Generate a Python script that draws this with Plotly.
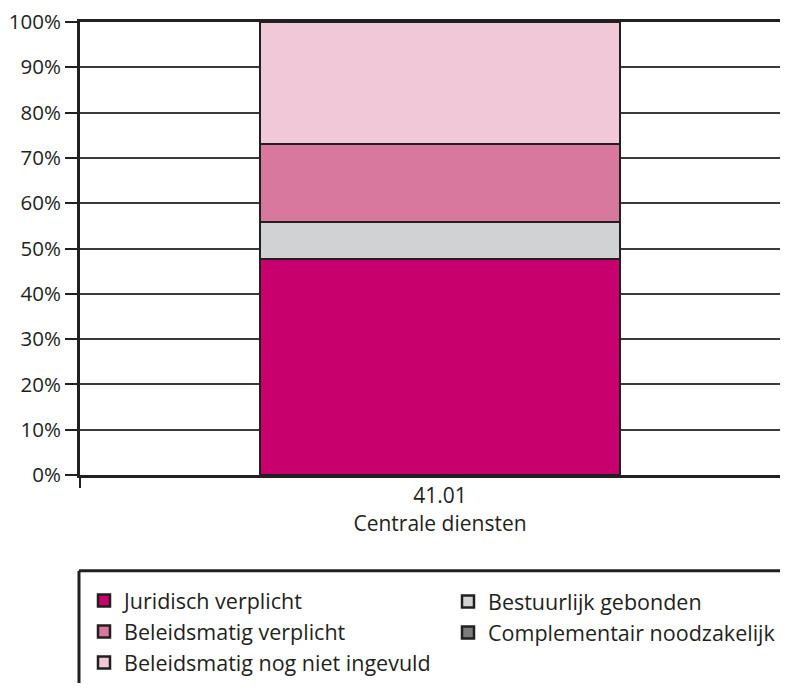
import plotly.graph_objects as go

categories = ["41.01<br>Centrale diensten"]
series_names = ["Juridisch verplicht", "Bestuurlijk gebonden", "Beleidsmatig verplicht",
                "Complementair noodzakelijk", "Beleidsmatig nog niet ingevuld"]
series_values = [[47.7], [8.1], [17.3], [0.0], [26.9]]
series_colors = ["#c8006e", "#d1d2d4", "#d8789e", "#7b7c7e", "#f0c8d7"]
series_legend = ["legend", "legend2", "legend", "legend2", "legend"]
y_ticks = [0, 10, 20, 30, 40, 50, 60, 70, 80, 90, 100]
y_ticklabels = [f"{v}%" for v in y_ticks]

dark = "#231f20"
font = "Open Sans, DejaVu Sans, sans-serif"

W, H = 788, 675
L, T = 72, 14
plot_h = 454
B = H - T - plot_h
R = 0
plot_w = W - L - R

def py(page_y):
    # page pixel (with 8px body offset) -> paper y
    fy = page_y - 8
    return (H - B - fy) / plot_h

def px(page_x):
    fx = page_x - 8
    return (fx - L) / plot_w

# bar centre at page x 440, category axis left edge at -0.5
x_hi = -0.5 + plot_w / (440 - 80) * 0.5

fig = go.Figure()
for name, vals, col, lg in zip(series_names, series_values, series_colors, series_legend):
    fig.add_trace(go.Bar(
        x=categories, y=vals, name=name, width=0.5, legend=lg,
        marker=dict(color=col, line=dict(color=dark, width=2.5)),
    ))

legend_common = dict(xanchor="left", yanchor="top", traceorder="normal",
                     font=dict(size=21.5, family=font, color="#231f20"),
                     bgcolor="rgba(0,0,0,0)", orientation="v")

fig.update_layout(
    width=W, height=H,
    margin=dict(l=L, r=R, t=T, b=B),
    barmode="stack",
    plot_bgcolor="white", paper_bgcolor="white",
    font=dict(family=font, size=20, color="#231f20"),
    showlegend=True,
    legend=dict(x=px(84), y=py(581), **legend_common),
    legend2=dict(x=px(448), y=py(581), **legend_common),
    xaxis=dict(
        range=[-0.5, x_hi], showline=True, linecolor=dark, linewidth=3, mirror=True,
        ticks="outside", tickson="boundaries", ticklen=10, tickcolor=dark, tickwidth=1.5,
        showgrid=False, zeroline=False, tickfont=dict(size=21),
    ),
    yaxis=dict(
        range=[0, 100], tickvals=y_ticks, ticktext=y_ticklabels,
        showline=True, linecolor=dark, linewidth=3, mirror=False,
        ticks="outside", ticklen=12, tickcolor=dark, tickwidth=1.5,
        showgrid=True, gridcolor="#3a3a3a", gridwidth=1.5, zeroline=False,
        tickfont=dict(size=20.5), fixedrange=True, ticklabeloverflow="allow",
    ),
    shapes=[
        dict(type="line", xref="paper", yref="paper", x0=px(79), x1=1.05,
             y0=py(572), y1=py(572), line=dict(color=dark, width=3)),
        dict(type="line", xref="paper", yref="paper", x0=px(79), x1=px(79),
             y0=py(572), y1=py(720), line=dict(color=dark, width=3)),
    ],
)

fig.write_html("out.html")
